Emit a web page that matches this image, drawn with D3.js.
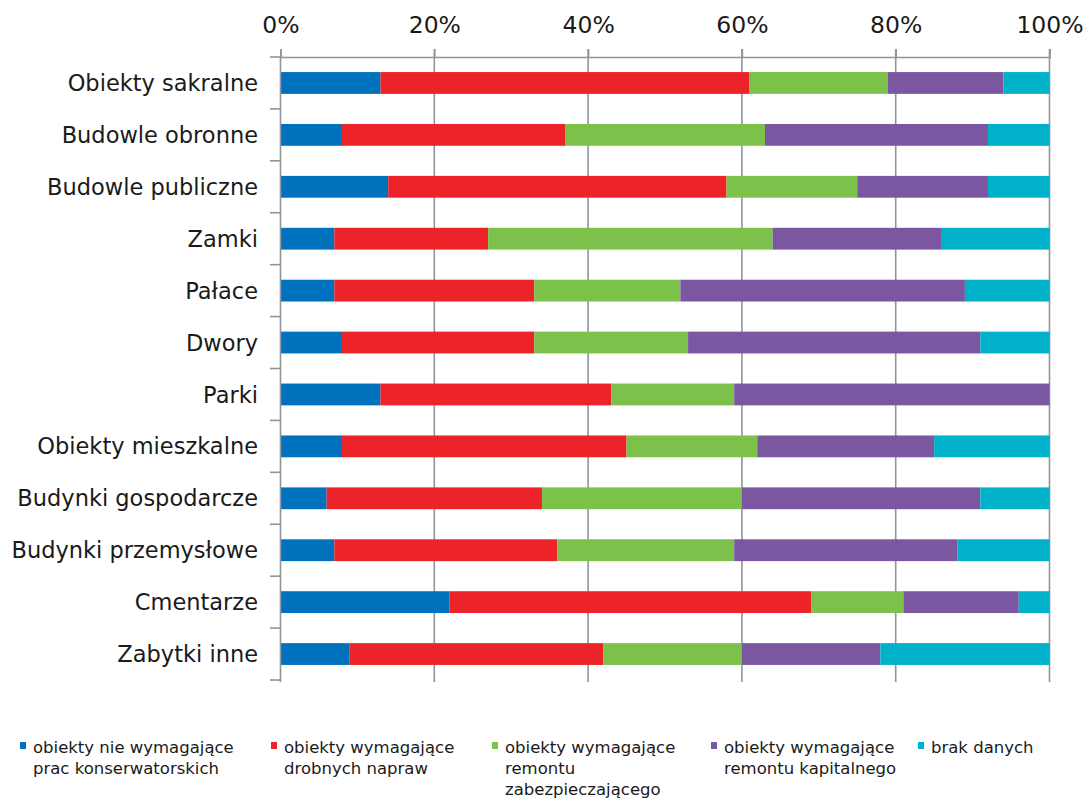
<!DOCTYPE html>
<html><head><meta charset="utf-8">
<script src="https://cdn.jsdelivr.net/npm/d3@7"></script>
<style>body{margin:0;background:#fff}svg{display:block}</style>
</head><body>
<svg id="c" width="1086" height="799"></svg>
<script>
const categories = ["Obiekty sakralne","Budowle obronne","Budowle publiczne","Zamki","Pałace","Dwory","Parki","Obiekty mieszkalne","Budynki gospodarcze","Budynki przemysłowe","Cmentarze","Zabytki inne"];
const seriesNames = ["obiekty nie wymagające prac konserwatorskich","obiekty wymagające drobnych napraw","obiekty wymagające remontu zabezpieczającego","obiekty wymagające remontu kapitalnego","brak danych"];
const legendLines = [["obiekty nie wymagające","prac konserwatorskich"],["obiekty wymagające","drobnych napraw"],["obiekty wymagające","remontu","zabezpieczającego"],["obiekty wymagające","remontu kapitalnego"],["brak danych"]];
const nieWymagajace = [13,8,14,7,7,8,13,8,6,7,22,9];
const drobneNaprawy = [48,29,44,20,26,25,30,37,28,29,47,33];
const remontZabezp  = [18,26,17,37,19,20,16,17,26,23,12,18];
const remontKapit   = [15,29,17,22,37,38,41,23,31,29,15,18];
const brakDanych    = [6,8,8,14,11,9,0,15,9,12,4,22];
const tickValues = [0,0.2,0.4,0.6,0.8,1.0];
const colors = ["#0071bd","#ec2329","#7bc14a","#7b56a1","#00b1c9"];

const seriesValues = [nieWymagajace,drobneNaprawy,remontZabezp,remontKapit,brakDanych];
const rows = categories.map((c,i)=>{const o={cat:c}; seriesNames.forEach((s,j)=>o[s]=seriesValues[j][i]/100); return o;});
const stack = d3.stack().keys(seriesNames)(rows);

const svg = d3.select("#c");
const x = d3.scaleLinear().domain([0,1]).range([280.5,1049.5]);
const y = d3.scaleBand().domain(categories).range([57,680]).paddingInner(0.58).paddingOuter(0.29);
const step = y.step();
const font = "'DejaVu Sans', Verdana, sans-serif";
const grid = "#8d969c";

// gridlines
svg.append("g").selectAll("line").data(tickValues.slice(1)).join("line")
  .attr("x1",d=>x(d)).attr("x2",d=>x(d)).attr("y1",49).attr("y2",682)
  .attr("stroke",grid).attr("stroke-width",1.6);

// bars
svg.append("g").selectAll("g").data(stack).join("g").attr("fill",(d,i)=>colors[i])
  .selectAll("rect").data(d=>d).join("rect")
  .attr("x",d=>x(d[0])).attr("width",d=>x(d[1])-x(d[0]))
  .attr("y",d=>y(d.data.cat)).attr("height",y.bandwidth());

// top axis
const xAxis = d3.axisTop(x).tickValues(tickValues).tickFormat(d3.format(".0%")).tickSize(8).tickPadding(16);
const gx = svg.append("g").attr("transform","translate(0,57)").call(xAxis);
gx.select(".domain").attr("stroke",grid).attr("stroke-width",1.6);
gx.selectAll(".tick line").attr("stroke",grid).attr("stroke-width",1.6);
gx.selectAll("text").attr("font-family",font).attr("font-size",23.5).attr("fill","#1a1a1a");

// left axis line & boundary ticks
svg.append("line").attr("x1",280.5).attr("x2",280.5).attr("y1",57).attr("y2",682).attr("stroke",grid).attr("stroke-width",1.6);
svg.append("g").selectAll("line").data(d3.range(categories.length+1)).join("line")
  .attr("x1",270).attr("x2",280.5)
  .attr("y1",i=>57+i*step).attr("y2",i=>57+i*step)
  .attr("stroke",grid).attr("stroke-width",1.6);

// category labels
svg.append("g").selectAll("text").data(categories).join("text")
  .attr("x",258).attr("y",d=>y(d)+y.bandwidth()/2).attr("dy","0.36em")
  .attr("text-anchor","end").attr("font-family",font).attr("font-size",22.5).attr("fill","#1a1a1a")
  .text(d=>d);

// legend
const legX = [20,271,492,711,918];
const lg = svg.append("g").selectAll("g").data(seriesNames).join("g")
  .attr("transform",(d,i)=>`translate(${legX[i]},742)`);
lg.append("rect").attr("width",6).attr("height",7).attr("y",0).attr("fill",(d,i)=>colors[i]);
lg.append("text").attr("font-family",font).attr("font-size",16.5).attr("fill","#1a1a1a")
  .selectAll("tspan").data((d,i)=>legendLines[i]).join("tspan")
  .attr("x",13).attr("y",(d,k)=>11+k*21).text(d=>d);
</script>
</body></html>
